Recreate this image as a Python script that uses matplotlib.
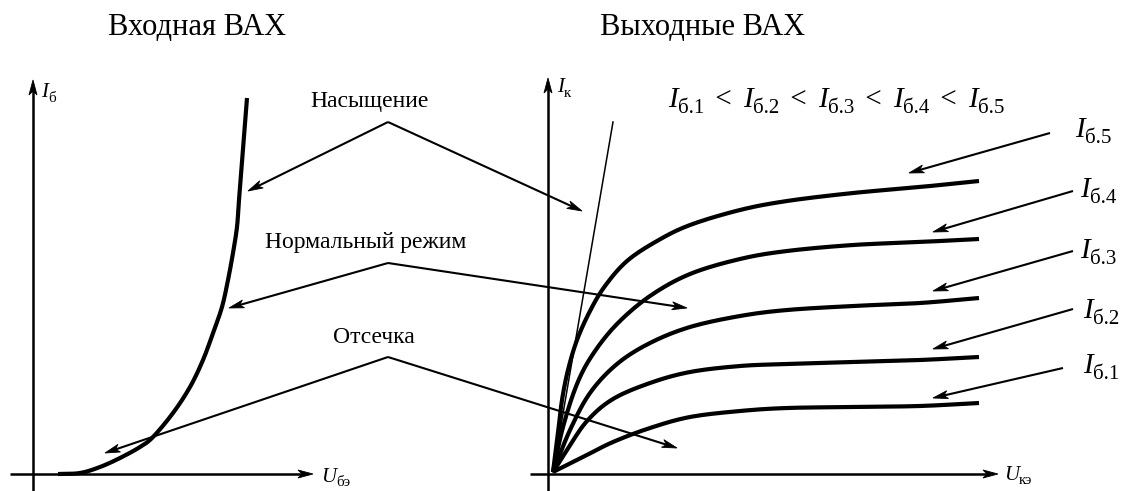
import numpy as np
import matplotlib
matplotlib.use('Agg')
import matplotlib.pyplot as plt
from matplotlib.patches import Polygon

plt.rcParams['font.family'] = ['Liberation Serif', 'DejaVu Serif']

# входная ВАХ (координаты в пикселях рисунка, ось y вниз)
in_u = [58, 80, 100, 120, 140, 153, 173, 190, 203, 213, 222, 228, 233, 237, 239, 243, 247]
in_i = [474, 473, 467, 458, 447, 437, 413, 387, 360, 333, 307, 280, 253, 227, 200, 150, 98]

# выходные ВАХ для Iб.1 ... Iб.5
ib1_u = [553, 583, 613, 650, 690, 740, 787, 853, 920, 979]
ib1_i = [472, 457, 442, 428, 417, 411, 408, 407, 406, 403]
ib2_u = [553, 567, 587, 613, 650, 690, 740, 787, 853, 920, 979]
ib2_i = [472, 450, 421, 399, 383, 372, 366, 364, 362, 360, 357]
ib3_u = [553, 570, 590, 617, 650, 690, 740, 787, 853, 920, 979]
ib3_i = [472, 430, 393, 364, 343, 327, 316, 310, 306, 303, 298]
ib4_u = [553, 563, 577, 593, 617, 650, 690, 740, 787, 853, 920, 979]
ib4_i = [472, 427, 384, 354, 324, 296, 274, 259, 251, 245, 242, 239]
ib5_u = [553, 558, 562, 568, 577, 590, 605, 627, 657, 690, 740, 787, 853, 920, 979]
ib5_i = [472, 433, 400, 370, 340, 311, 286, 261, 241, 225, 210, 201, 193, 187, 181]

# граница насыщения
sat_u = [553, 613]
sat_i = [472, 122]

# подписи режимов: вершина выноски и концы стрелок
modes = ['Насыщение', 'Нормальный режим', 'Отсечка']
mode_text_xy = [(310, 107), (265, 248), (333, 343)]
mode_apex = [(388, 122), (388, 263), (388, 357)]
mode_tips = [[(248, 191), (582, 211)],
             [(229, 308), (687, 308)],
             [(105, 453), (677, 448)]]

# подписи кривых Iб
ib_subs = ['б.5', 'б.4', 'б.3', 'б.2', 'б.1']
ib_label_xy = [(1075, 137), (1080, 197), (1080, 258), (1083, 318), (1083, 373)]
ib_arrow_from = [(1050, 133), (1073, 191), (1073, 251), (1073, 309), (1063, 368)]
ib_arrow_to = [(909, 173), (933, 232), (933, 291), (933, 349), (933, 398)]


def smooth(xs, ys, n=16):
    # сглаживание ломаной сплайном Катмулла-Рома
    p = np.column_stack([xs, ys]).astype(float)
    p = np.vstack([2 * p[0] - p[1], p, 2 * p[-1] - p[-2]])
    t = np.linspace(0, 1, n, endpoint=False)[:, None]
    out = []
    for k in range(1, len(p) - 2):
        p0, p1, p2, p3 = p[k - 1], p[k], p[k + 1], p[k + 2]
        out.append(0.5 * (2 * p1 + (p2 - p0) * t + (2 * p0 - 5 * p1 + 4 * p2 - p3) * t ** 2
                          + (-p0 + 3 * p1 - 3 * p2 + p3) * t ** 3))
    out.append(p[-2][None])
    c = np.vstack(out)
    return c[:, 0], c[:, 1]


def arrow(ax, x0, y0, x1, y1, lw=1.5, L=15, w=4.0, notch=4):
    d = np.array([x1 - x0, y1 - y0], dtype=float)
    d /= np.hypot(*d)
    n = np.array([-d[1], d[0]])
    tip = np.array([x1, y1], dtype=float)
    back = tip - (L - notch) * d
    ax.plot([x0, back[0]], [y0, back[1]], color='k', lw=lw, solid_capstyle='butt')
    pts = [tip, tip - L * d + w * n, back, tip - L * d - w * n]
    ax.add_patch(Polygon(pts, closed=True, fc='k', ec='k', lw=0.6))


def right_edge(ax, t):
    bb = t.get_window_extent(fig.canvas.get_renderer())
    return ax.transData.inverted().transform((bb.x1, bb.y0))[0]


def sub_text(ax, x, y, main, sub, size):
    # курсивная буква с прямым индексом
    t = ax.text(x, y, main, fontsize=size, style='italic', va='baseline')
    xe = right_edge(ax, t)
    s = ax.text(xe, y + size * 0.3, sub, fontsize=size * 0.72, va='baseline')
    return right_edge(ax, s)


fig = plt.figure(figsize=(11.25, 4.91), dpi=100)
ax = fig.add_axes([0, 0, 1, 1])
ax.set_xlim(0, 1125)
ax.set_ylim(491, 0)
ax.axis('off')

title = 22
big = 17
lab = 21
small = 15

# заголовки
ax.text(197, 35, 'Входная ВАХ', fontsize=title, ha='center', va='baseline')
ax.text(703, 35, 'Выходные ВАХ', fontsize=title, ha='center', va='baseline')

# оси левого графика
arrow(ax, 33, 491, 33, 80, lw=1.8)
arrow(ax, 10, 474, 313, 474, lw=1.8)
sub_text(ax, 41, 97, 'I', 'б', small)
sub_text(ax, 321, 482, 'U', 'бэ', small)

# оси правого графика
arrow(ax, 548, 491, 548, 78, lw=1.8)
arrow(ax, 530, 474, 998, 474, lw=1.8)
sub_text(ax, 557, 92, 'I', 'к', small)
sub_text(ax, 1004, 480, 'U', 'кэ', small)

# кривые
ax.plot(*smooth(in_u, in_i), color='k', lw=3.0, solid_capstyle='butt')
for u, i in [(ib1_u, ib1_i), (ib2_u, ib2_i), (ib3_u, ib3_i), (ib4_u, ib4_i), (ib5_u, ib5_i)]:
    ax.plot(*smooth(u, i), color='k', lw=3.0, solid_capstyle='butt')
ax.plot(sat_u, sat_i, color='k', lw=1.1)

# режимы работы
for name, (tx, ty), (ax0, ay0), tips in zip(modes, mode_text_xy, mode_apex, mode_tips):
    ax.text(tx, ty, name, fontsize=big, va='baseline')
    for x1, y1 in tips:
        arrow(ax, ax0, ay0, x1, y1)

# Iб.1 < Iб.2 < ... < Iб.5
x = 668
for k in range(1, 6):
    x = sub_text(ax, x, 107, 'I', 'б.%d' % k, lab)
    if k < 5:
        t = ax.text(x + 4, 107, ' < ', fontsize=lab, va='baseline')
        x = right_edge(ax, t) + 4

for sub, (lx, ly), (x0, y0), (x1, y1) in zip(ib_subs, ib_label_xy, ib_arrow_from, ib_arrow_to):
    sub_text(ax, lx, ly, 'I', sub, lab)
    arrow(ax, x0, y0, x1, y1)

fig.savefig('out.png', dpi=100)
